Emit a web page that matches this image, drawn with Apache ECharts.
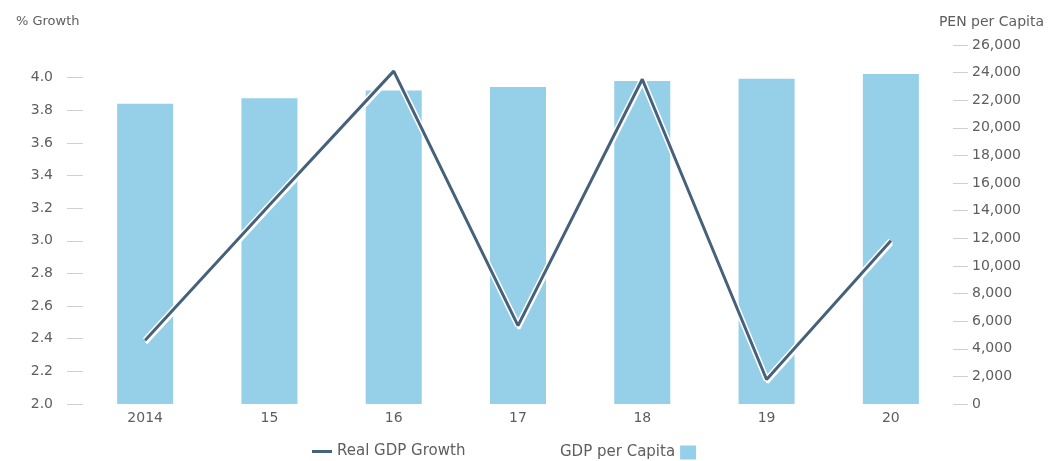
<!DOCTYPE html>
<html>
<head>
<meta charset="utf-8">
<script src="https://cdn.jsdelivr.net/npm/echarts@6/dist/echarts.min.js"></script>
<style>html,body{margin:0;padding:0;background:#fff}#c{width:1051px;height:461px}</style>
</head>
<body>
<div id="c"></div>
<script>
const categories = ['2014', '15', '16', '17', '18', '19', '20'];
const gdpGrowth = [2.39, 3.22, 4.04, 2.48, 3.99, 2.15, 3.0];
const gdpPerCapita = [21750, 22150, 22700, 22950, 23400, 23550, 23900];
const leftTicks = [2.0, 2.2, 2.4, 2.6, 2.8, 3.0, 3.2, 3.4, 3.6, 3.8, 4.0];
const leftName = '% Growth';
const rightName = 'PEN per Capita';

const FONT = 'DejaVu Sans';
const TXT = '#5e5e5e';
const chart = echarts.init(document.getElementById('c'));
chart.setOption({
  animation: false,
  textStyle: { fontFamily: FONT },
  title: [
    { text: leftName, left: 11, top: 10, textStyle: { fontFamily: FONT, fontSize: 13, fontWeight: 'normal', color: TXT } },
    { text: rightName, right: 2, top: 10, textStyle: { fontFamily: FONT, fontSize: 14, fontWeight: 'normal', color: TXT } }
  ],
  legend: [
    { data: ['Real GDP Growth'], left: 307, top: 439, align: 'left', icon: 'rect', itemWidth: 20, itemHeight: 3,
      itemGap: 5, textStyle: { fontFamily: FONT, fontSize: 15, color: TXT } },
    { data: ['GDP per Capita'], left: 555, top: 440, align: 'right', icon: 'rect', itemWidth: 16, itemHeight: 14,
      textStyle: { fontFamily: FONT, fontSize: 15, color: TXT } }
  ],
  grid: { left: 83, right: 98, top: 45, bottom: 57, containLabel: false },
  xAxis: {
    type: 'category', data: categories,
    axisLine: { show: false }, axisTick: { show: false },
    axisLabel: { margin: 7, fontSize: 14, color: TXT, fontFamily: FONT }
  },
  yAxis: [
    { type: 'value', min: 2.0, max: 4.2, interval: 0.2, position: 'left',
      splitLine: { show: false }, axisLine: { show: false },
      axisTick: { show: true, length: 16, customValues: leftTicks, lineStyle: { color: '#d0d0d0' } },
      axisLabel: { customValues: leftTicks, margin: 30, fontSize: 14, color: TXT, fontFamily: FONT,
        formatter: v => v.toFixed(1) } },
    { type: 'value', min: 0, max: 26000, interval: 2000, position: 'right',
      splitLine: { show: false }, axisLine: { show: false },
      axisTick: { show: true, length: 15, lineStyle: { color: '#d0d0d0' } },
      axisLabel: { margin: 19, fontSize: 14, color: TXT, fontFamily: FONT } }
  ],
  series: [
    { name: 'GDP per Capita', type: 'bar', yAxisIndex: 1, data: gdpPerCapita, barWidth: 56,
      itemStyle: { color: '#95cfe8' }, z: 1 },
    { name: 'halo', type: 'line', yAxisIndex: 0, data: gdpGrowth, symbol: 'none', silent: true,
      lineStyle: { color: '#ffffff', width: 6 }, z: 2 },
    { name: 'Real GDP Growth', type: 'line', yAxisIndex: 0, data: gdpGrowth, symbol: 'none',
      itemStyle: { color: '#46617a' },
      lineStyle: { color: '#46617a', width: 3, shadowColor: '#ffffff', shadowBlur: 0, shadowOffsetX: 1, shadowOffsetY: 3 }, z: 3 }
  ]
});
</script>
</body>
</html>
